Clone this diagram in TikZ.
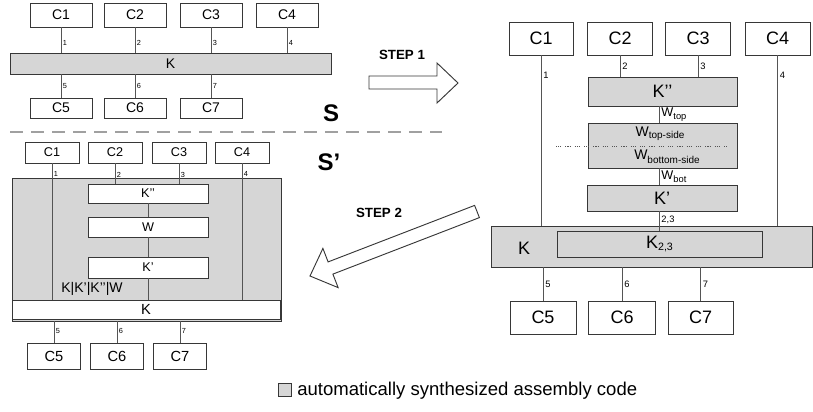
\documentclass[tikz,border=0pt]{standalone}
\usepackage{fontspec}
\setmainfont{Liberation Sans}
\definecolor{boxgray}{RGB}{214,214,214}
\definecolor{edgec}{RGB}{55,55,55}
\definecolor{connc}{RGB}{85,85,85}
\definecolor{sepc}{RGB}{160,160,160}
\newcommand\FontA{\fontsize{10.5}{12}\selectfont}
\newcommand\FontB{\fontsize{9.5}{11}\selectfont}
\newcommand\FontBb{\fontsize{11}{13}\selectfont}
\newcommand\FontC{\fontsize{13.5}{16}\selectfont}
\newcommand\FontBig{\fontsize{18}{20}\selectfont\bfseries}
\newcommand\FontStep{\fontsize{10}{12}\selectfont\bfseries}
\newcommand\FontTiny{\fontsize{5.5}{6}\selectfont}
\newcommand\FontSmall{\fontsize{7}{8}\selectfont}
\newcommand\FontLeg{\fontsize{13.9}{16}\selectfont}
\begin{document}
\begin{tikzpicture}[x=0.75pt,y=-0.75pt,
  box/.style={draw=edgec, line width=0.75pt, inner sep=0pt, outer sep=0pt, fill=white},
  gbox/.style={box, fill=boxgray},
  sz/.style 2 args={minimum width=#1*0.75pt, minimum height=#2*0.75pt},
  wire/.style={draw=connc, line width=0.7pt},
  tlbl/.style={font=\FontTiny, inner sep=1pt, anchor=west},
  slbl/.style={font=\FontSmall, inner sep=1.5pt, anchor=west},
  sepline/.style={draw=sepc, line width=1.4pt, dash pattern=on 9.75pt off 6pt},
  dotline/.style={draw=connc, line width=0.5pt, dash pattern=on 0.8pt off 0.8pt on 0.8pt off 0.8pt on 0.8pt off 3pt},
  bigarrow/.style={draw=edgec, line width=0.7pt, fill=white, line join=miter}
]
\useasboundingbox (0,0) rectangle (813,411);

% ---------------- S ----------------
\node[box,sz={62}{24},font=\FontA] (sc1) at (61,15) {C1};
\node[box,sz={62}{24},font=\FontA] (sc2) at (135,15) {C2};
\node[box,sz={62}{24},font=\FontA] (sc3) at (211,15) {C3};
\node[box,sz={62}{24},font=\FontA] (sc4) at (287,15) {C4};
\node[gbox,sz={321}{21},font=\FontA] (sk) at (170.5,63.5) {K};
\node[box,sz={62}{20},font=\FontA] (sc5) at (61,108) {C5};
\node[box,sz={62}{20},font=\FontA] (sc6) at (135,108) {C6};
\node[box,sz={62}{20},font=\FontA] (sc7) at (211,108) {C7};
\draw[wire] (sc1.south) -- (sc1.south |- sk.north) node[tlbl,pos=0.6] {1};
\draw[wire] (sc2.south) -- (sc2.south |- sk.north) node[tlbl,pos=0.6] {2};
\draw[wire] (sc3.south) -- (sc3.south |- sk.north) node[tlbl,pos=0.6] {3};
\draw[wire] (sc4.south) -- (sc4.south |- sk.north) node[tlbl,pos=0.6] {4};
\draw[wire] (sk.south -| sc5) -- (sc5.north) node[tlbl,pos=0.5] {5};
\draw[wire] (sk.south -| sc6) -- (sc6.north) node[tlbl,pos=0.5] {6};
\draw[wire] (sk.south -| sc7) -- (sc7.north) node[tlbl,pos=0.5] {7};
\node[font=\FontBig] (S) at (331,113) {S};

\coordinate (dl) at (10,132);
\coordinate (dr) at (442,132);
\draw[sepline] (dl) -- (dr);

% ---------------- S' ----------------
\node[gbox,sz={269}{143}] (pbig) at (146.5,249.5) {};
\node[box,sz={54}{21},font=\FontB] (pc1) at (52,152.5) {C1};
\node[box,sz={54}{21},font=\FontB] (pc2) at (115,152.5) {C2};
\node[box,sz={54}{21},font=\FontB] (pc3) at (179,152.5) {C3};
\node[box,sz={54}{21},font=\FontB] (pc4) at (242,152.5) {C4};
\node[box,sz={120}{19},font=\FontB] (pk2) at (148,193.5) {K’’};
\node[box,sz={120}{20},font=\FontB] (pw) at (148,227) {W};
\node[box,sz={120}{21},font=\FontB] (pk1) at (148,267.5) {K’};
\node[box,sz={268}{19},font=\FontBb] (pk) at (146,309.5) {K};
\node[box,sz={53}{26},font=\FontBb] (pc5) at (54,356) {C5};
\node[box,sz={53}{26},font=\FontBb] (pc6) at (117,356) {C6};
\node[box,sz={53}{26},font=\FontBb] (pc7) at (180,356) {C7};
\draw[wire] (pc1.south) -- (pc1.south |- pk.north) node[tlbl,pos=0.08] {1};
\draw[wire] (pc2.south) -- (pc2.south |- pk2.north) node[tlbl,pos=0.55] {2};
\draw[wire] (pc3.south) -- (pc3.south |- pk2.north) node[tlbl,pos=0.55] {3};
\draw[wire] (pc4.south) -- (pc4.south |- pk.north) node[tlbl,pos=0.08] {4};
\draw[wire] (pk2.south) -- (pw.north);
\draw[wire] (pw.south) -- (pk1.north);
\draw[wire] (pk1.south) -- (pk1.south |- pk.north);
\draw[wire] (pbig.south -| pc5) -- (pc5.north) node[tlbl,pos=0.45] {5};
\draw[wire] (pbig.south -| pc6) -- (pc6.north) node[tlbl,pos=0.45] {6};
\draw[wire] (pbig.south -| pc7) -- (pc7.north) node[tlbl,pos=0.45] {7};
\node[font=\FontA] (klist) at (92,289) {K|K’|K’’|W};
\node[font=\FontBig] (Sp) at (329,162) {S’};

% ---------------- right ----------------
\node[box,sz={64}{33},font=\FontC] (rc1) at (541,38.5) {C1};
\node[box,sz={65}{33},font=\FontC] (rc2) at (620,38.5) {C2};
\node[box,sz={65}{33},font=\FontC] (rc3) at (698,38.5) {C3};
\node[box,sz={65}{33},font=\FontC] (rc4) at (777.5,38.5) {C4};
\node[gbox,sz={149}{29},font=\FontC] (rk2) at (662.5,91.5) {K’’};
\node[gbox,sz={149}{45}] (rw) at (662.5,145.5) {};
\node[gbox,sz={150}{26},font=\FontC] (rk1) at (662,198) {K’};
\node[gbox,sz={321}{41}] (rk) at (651.5,246.5) {};
\node[gbox,sz={205}{26},font=\FontC] (rk23) at (659.5,244) {K\raisebox{-1.5pt}{\fontsize{8}{9}\selectfont 2,3}};
\node[font=\FontC] (rklab) at (524,248) {K};
\node[box,sz={66}{33},font=\FontC] (rc5) at (543,317.5) {C5};
\node[box,sz={67}{33},font=\FontC] (rc6) at (622,317.5) {C6};
\node[box,sz={65}{33},font=\FontC] (rc7) at (700.5,317.5) {C7};
\coordinate (vx) at (659,0);
\coordinate (wdl) at (556,146);
\coordinate (wdr) at (728,146);
\draw[dotline] (wdl) -- (wdr);
\node[font=\fontsize{10.5}{12}\selectfont] (wts) at (660,134) {W\raisebox{-1.5pt}{\fontsize{7.5}{9}\selectfont top-side}};
\node[font=\fontsize{10.5}{12}\selectfont] (wbs) at (667,157) {W\raisebox{-3pt}{\fontsize{7.5}{9}\selectfont bottom-side}};
\draw[wire] (rc1.south) -- (rc1.south |- rk.north) node[slbl,pos=0.12] {1};
\draw[wire] (rc2.south) -- (rc2.south |- rk2.north) node[slbl,pos=0.5] {2};
\draw[wire] (rc3.south) -- (rc3.south |- rk2.north) node[slbl,pos=0.5] {3};
\draw[wire] (rc4.south) -- (rc4.south |- rk.north) node[slbl,pos=0.12] {4};
\draw[wire] (rk2.south -| vx) -- (rw.north -| vx) node[pos=0.5,anchor=west,inner sep=1.5pt,font=\fontsize{9.5}{11}\selectfont] {W\raisebox{-2.5pt}{\fontsize{7}{8}\selectfont top}};
\draw[wire] (rw.south -| vx) -- (rk1.north -| vx) node[pos=0.5,anchor=west,inner sep=1.5pt,font=\fontsize{9.5}{11}\selectfont] {W\raisebox{-2.5pt}{\fontsize{7}{8}\selectfont bot}};
\draw[wire] (rk1.south -| vx) -- (rk23.north -| vx) node[slbl,pos=0.45] {2,3};
\draw[wire] (rk.south -| rc5) -- (rc5.north) node[slbl,pos=0.5] {5};
\draw[wire] (rk.south -| rc6) -- (rc6.north) node[slbl,pos=0.5] {6};
\draw[wire] (rk.south -| rc7) -- (rc7.north) node[slbl,pos=0.5] {7};

% ---------------- step arrows ----------------
\draw[bigarrow] (369,76) -- (437,76) -- (437,63) -- (458,83) -- (437,103) -- (437,89) -- (369,89) -- cycle;
\node[font=\FontStep] (st1) at (402,55) {STEP 1};
\draw[bigarrow] (474.6,205.4) -- (328.1,261.9) -- (322.9,248.4) -- (310,276) -- (338.1,287.6) -- (332.9,274.1) -- (479.4,217.6) -- cycle;
\node[font=\FontStep] (st2) at (379,213) {STEP 2};

% ---------------- legend ----------------
\node[gbox,sz={13}{13}] (legbox) at (285,390) {};
\node[font=\FontLeg, anchor=west, inner sep=0pt] (legtxt) at (297,391) {automatically synthesized assembly code};
\end{tikzpicture}
\end{document}
